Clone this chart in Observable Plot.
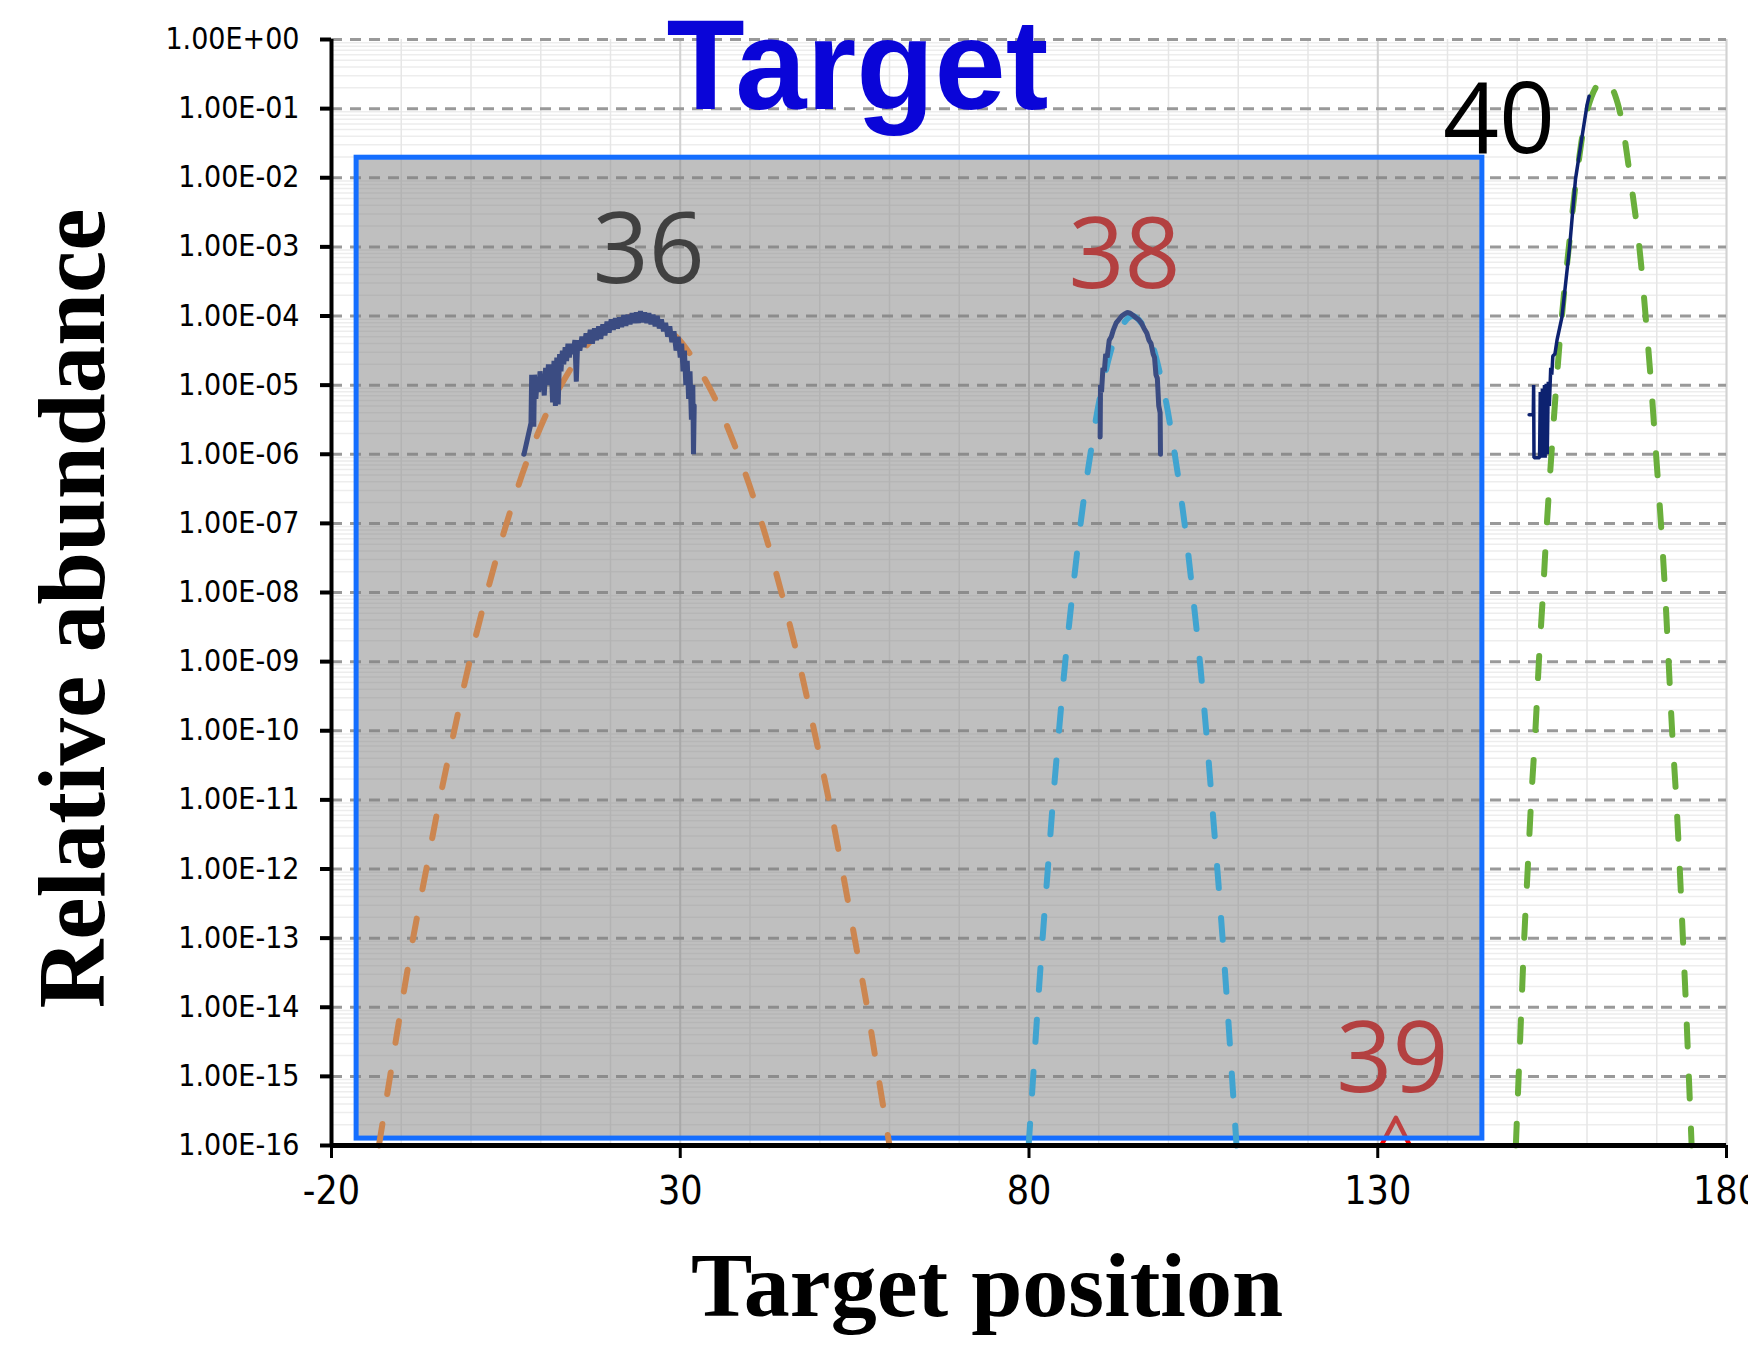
<!DOCTYPE html>
<html><head><meta charset="utf-8">
<script src="https://cdn.jsdelivr.net/npm/d3@7"></script>
<script src="https://cdn.jsdelivr.net/npm/@observablehq/plot@0.6"></script>
<style>
html,body{margin:0;padding:0;background:#fff;overflow:hidden;}
#chart svg{display:block;}
</style></head><body><div id="chart"></div>
<script>
// ---- axis ticks ----
const xTicks = [-20, 30, 80, 130, 180];
const yTickExp = [0, -1, -2, -3, -4, -5, -6, -7, -8, -9, -10, -11, -12, -13, -14, -15, -16];
const yTickLabels = ["1.00E+00","1.00E-01","1.00E-02","1.00E-03","1.00E-04","1.00E-05","1.00E-06","1.00E-07","1.00E-08","1.00E-09","1.00E-10","1.00E-11","1.00E-12","1.00E-13","1.00E-14","1.00E-15","1.00E-16"];

// ---- fitted (dashed) curves: x and log10(abundance) ----
const fit36X = [-13.2, -11.6, -10.0, -8.3, -6.4, -4.5, -2.4, -0.2, 2.3, 5.1, 8.4, 12.9, 18.3, 23.6, 28.9, 34.0, 38.3, 41.7, 44.5, 47.0, 49.2, 51.3, 53.2, 55.0, 56.8, 58.4, 60.0];
const fit36E = [-16, -15, -14, -13, -12, -11, -10, -9, -8, -7, -6, -5, -4.25, -4, -4.25, -5, -6, -7, -8, -9, -10, -11, -12, -13, -14, -15, -16];
const fit38X = [79.95, 80.6, 81.25, 81.95, 82.7, 83.45, 84.3, 85.2, 86.25, 87.4, 88.8, 90.55, 92.7, 94.85, 97.0, 99.15, 100.9, 102.3, 103.45, 104.5, 105.4, 106.2, 107.0, 107.75, 108.45, 109.1, 109.75];
const fit38E = [-16, -15, -14, -13, -12, -11, -10, -9, -8, -7, -6, -5, -4.25, -4, -4.25, -5, -6, -7, -8, -9, -10, -11, -12, -13, -14, -15, -16];
const fit40X = [149.8, 150.2, 150.6, 151.0, 151.5, 152.0, 152.6, 153.1, 153.7, 154.25, 154.9, 155.6, 156.4, 157.4, 158.5, 160.1, 161.4, 162.4, 163.4, 164.6, 166.2, 167.5, 168.4, 169.2, 169.9, 170.6, 171.2, 171.7, 172.2, 172.8, 173.3, 173.75, 174.2, 174.6, 175.0];
const fit40E = [-16, -15, -14, -13, -12, -11, -10, -9, -8, -7, -6, -5, -4, -3, -2, -1, -0.67, -0.57, -0.67, -1, -2, -3, -4, -5, -6, -7, -8, -9, -10, -11, -12, -13, -14, -15, -16];
const peak39X = [130.5, 132.6, 134.6];
const peak39E = [-16, -15.6, -16];

// ---- measured (solid navy) profiles ----
const obs36X = [7.6, 8.6, 8.7, 8.8, 8.9, 9.0, 9.1, 9.3, 9.5, 9.7, 9.9, 10.1, 10.3, 10.5, 10.7, 10.9, 11.1, 11.3, 11.5, 11.7, 11.9, 12.1, 12.3, 12.5, 12.7, 12.9, 13.1, 13.3, 13.5, 13.7, 13.9, 14.1, 14.3, 14.6, 14.9, 15.1, 15.3, 15.6, 15.9, 16.2, 16.5, 16.8, 17.1, 17.4, 17.7, 18.0, 18.3, 18.6, 18.9, 19.2, 19.5, 19.8, 20.1, 20.4, 20.7, 21.0, 21.3, 21.6, 21.9, 22.2, 22.5, 22.8, 23.1, 23.4, 23.7, 24.0, 24.3, 24.6, 24.9, 25.2, 25.5, 25.8, 26.1, 26.4, 26.7, 27.0, 27.3, 27.6, 27.9, 28.2, 28.5, 28.8, 29.1, 29.4, 29.7, 30.0, 30.2, 30.4, 30.6, 30.8, 31.0, 31.2, 31.4, 31.6, 31.8, 31.9, 32.0];
const obs36E = [-6.0, -5.55, -4.85, -5.45, -4.9, -5.6, -4.85, -5.2, -4.9, -5.1, -4.8, -5.05, -4.85, -5.15, -4.75, -5.0, -4.7, -4.95, -4.7, -5.25, -4.65, -5.3, -4.6, -5.28, -4.55, -4.8, -4.5, -4.7, -4.45, -4.65, -4.4, -4.6, -4.4, -4.55, -4.35, -4.95, -4.35, -4.5, -4.3, -4.45, -4.25, -4.4, -4.2, -4.4, -4.18, -4.35, -4.15, -4.33, -4.12, -4.28, -4.08, -4.24, -4.05, -4.2, -4.03, -4.18, -4.02, -4.16, -3.99, -4.14, -3.98, -4.12, -3.96, -4.1, -3.95, -4.1, -3.93, -4.09, -3.95, -4.1, -3.96, -4.12, -3.98, -4.15, -4.0, -4.18, -4.05, -4.22, -4.1, -4.3, -4.15, -4.38, -4.22, -4.5, -4.3, -4.6, -4.4, -4.8, -4.5, -5.0, -4.65, -5.2, -4.8, -5.5, -5.0, -6.0, -5.3];
const obs38X = [90.2, 90.25, 90.4, 90.6, 90.8, 91.0, 91.2, 91.5, 91.8, 92.1, 92.5, 92.9, 93.3, 93.7, 94.1, 94.5, 94.9, 95.3, 95.7, 96.1, 96.5, 96.9, 97.2, 97.5, 97.8, 98.0, 98.2, 98.4, 98.6, 98.8, 98.85];
const obs38E = [-5.75, -5.0, -5.1, -4.75, -4.8, -4.55, -4.6, -4.35, -4.3, -4.2, -4.1, -4.05, -4.0, -3.97, -3.95, -3.96, -3.99, -4.02, -4.05, -4.1, -4.18, -4.25, -4.35, -4.4, -4.55, -4.6, -4.85, -4.9, -5.3, -5.4, -6.0];
const obs40X = [151.7, 152.3, 152.35, 152.4, 153.2, 153.3, 153.45, 153.6, 153.75, 153.9, 154.0, 154.15, 154.3, 154.45, 154.6, 154.8, 154.95, 155.1, 155.4, 155.7, 156.4, 157.5, 158.35, 159.3, 160.0, 160.3];
const obs40E = [-5.43, -5.43, -5.0, -6.05, -6.05, -5.1, -6.05, -5.05, -6.05, -5.0, -6.05, -4.98, -6.0, -4.95, -5.3, -4.75, -4.85, -4.58, -4.55, -4.35, -4.02, -3.01, -2.02, -1.4, -0.95, -0.82];

// ---- annotations ----
const labelText = ["36", "38", "39", "40"];
const labelX = [25.5, 93.7, 132.1, 147.4];
const labelE = [-3.067, -3.148, -14.765, -1.193];
const labelColor = ["#000000", "#e60000", "#e60000", "#000000"];
const boxX = [-16.4, 145.0];
const boxE = [-15.9, -1.71];
const titleText = ["Target"];
const titleX = [55.4];
const titleE = [-0.41];

const pts = (X, E) => X.map((x, i) => ({x, y: 10 ** E[i]}));
const yTicks = yTickExp.map(e => 10 ** e);
const minorX = d3.range(-20, 181, 10);
const minorY = [];
for (let e = -16; e < 0; e++) for (let m = 2; m <= 9; m++) minorY.push(m * 10 ** e);

const labels = labelText.map((t, i) => ({t, x: labelX[i], y: 10 ** labelE[i], c: labelColor[i]}));
const box = [{x1: boxX[0], x2: boxX[1], y1: 10 ** boxE[0], y2: 10 ** boxE[1]}];
const title = titleText.map((t, i) => ({t, x: titleX[i], y: 10 ** titleE[i]}));

const dashStyle = {x: "x", y: "y", curve: "catmull-rom", strokeWidth: 6, strokeDasharray: "22,30", strokeLinecap: "round"};
const obsStyle = {x: "x", y: "y", strokeWidth: 5, strokeLinejoin: "miter"};
const tickFont = "'Liberation Sans Narrow', 'DejaVu Sans Condensed', sans-serif";

const chart = Plot.plot({
  width: 1748, height: 1349,
  marginLeft: 331, marginRight: 22, marginTop: 39, marginBottom: 204,
  x: {domain: [-20, 180]},
  y: {type: "log", domain: [1e-16, 1]},
  color: {type: "identity"},
  style: {background: "#fff", overflow: "visible", color: "#000"},
  marks: [
    Plot.ruleY(minorY, {stroke: "#ededed", strokeWidth: 1.5}),
    Plot.ruleX(minorX, {stroke: "#e6e6e6", strokeWidth: 1.5}),
    Plot.ruleX(xTicks.slice(1), {stroke: "#d2d2d2", strokeWidth: 2}),
    Plot.ruleY(yTicks, {stroke: "#999999", strokeWidth: 3, strokeDasharray: "11,8"}),
    Plot.line(pts(peak39X, peak39E), {x: "x", y: "y", stroke: "#ff0000", strokeWidth: 4.5}),
    Plot.text(labels, {x: "x", y: "y", text: "t", fill: "c", fontSize: 98, fontFamily: "Open Sans", textAnchor: "middle", lineAnchor: "middle"}),
    Plot.rect(box, {x1: "x1", x2: "x2", y1: "y1", y2: "y2", fill: "#808080", fillOpacity: 0.5, stroke: "#146eff", strokeWidth: 5}),
    Plot.line(pts(fit36X, fit36E), {...dashStyle, stroke: "#cc8650"}),
    Plot.line(pts(fit38X, fit38E), {...dashStyle, stroke: "#41a4d0"}),
    Plot.line(pts(fit40X, fit40E), {...dashStyle, stroke: "#6aaf3c"}),
    Plot.line(pts(obs36X, obs36E), {...obsStyle, stroke: "#3b4c82"}),
    Plot.line(pts(obs38X, obs38E), {...obsStyle, stroke: "#3b4c82"}),
    Plot.line(pts(obs40X, obs40E), {...obsStyle, stroke: "#0d2270", strokeWidth: 3.5}),
    Plot.ruleX([-20], {stroke: "#000", strokeWidth: 4}),
    Plot.ruleY([1e-16], {stroke: "#000", strokeWidth: 5}),
    Plot.axisY(yTicks, {anchor: "left", label: null, tickSize: 11, tickPadding: 21, strokeWidth: 4, fontSize: 30,
      fontFamily: tickFont, tickFormat: d => yTickLabels[-Math.round(Math.log10(d))]}),
    Plot.axisX(xTicks, {anchor: "bottom", label: null, tickSize: 13, tickPadding: 18, strokeWidth: 3, fontSize: 39,
      fontFamily: tickFont, tickFormat: d => String(d)}),
    Plot.text(title, {x: "x", y: "y", text: "t", fill: "#0a05d8", fontSize: 128, fontWeight: "bold", fontFamily: "'Liberation Sans', Arial, sans-serif", textAnchor: "middle"}),
    Plot.text(["Relative abundance"], {frameAnchor: "left", textAnchor: "middle", lineAnchor: "middle", rotate: -90, dx: -258, dy: 16, fontSize: 95, fontWeight: "bold", fontFamily: "'Liberation Serif', serif", fill: "#000"}),
    Plot.text(["Target position"], {frameAnchor: "bottom", textAnchor: "middle", lineAnchor: "middle", dx: -42, dy: 141, fontSize: 92, fontWeight: "bold", fontFamily: "'Liberation Serif', serif", fill: "#000"})
  ]
});
document.getElementById("chart").appendChild(chart);
</script>
</body></html>
